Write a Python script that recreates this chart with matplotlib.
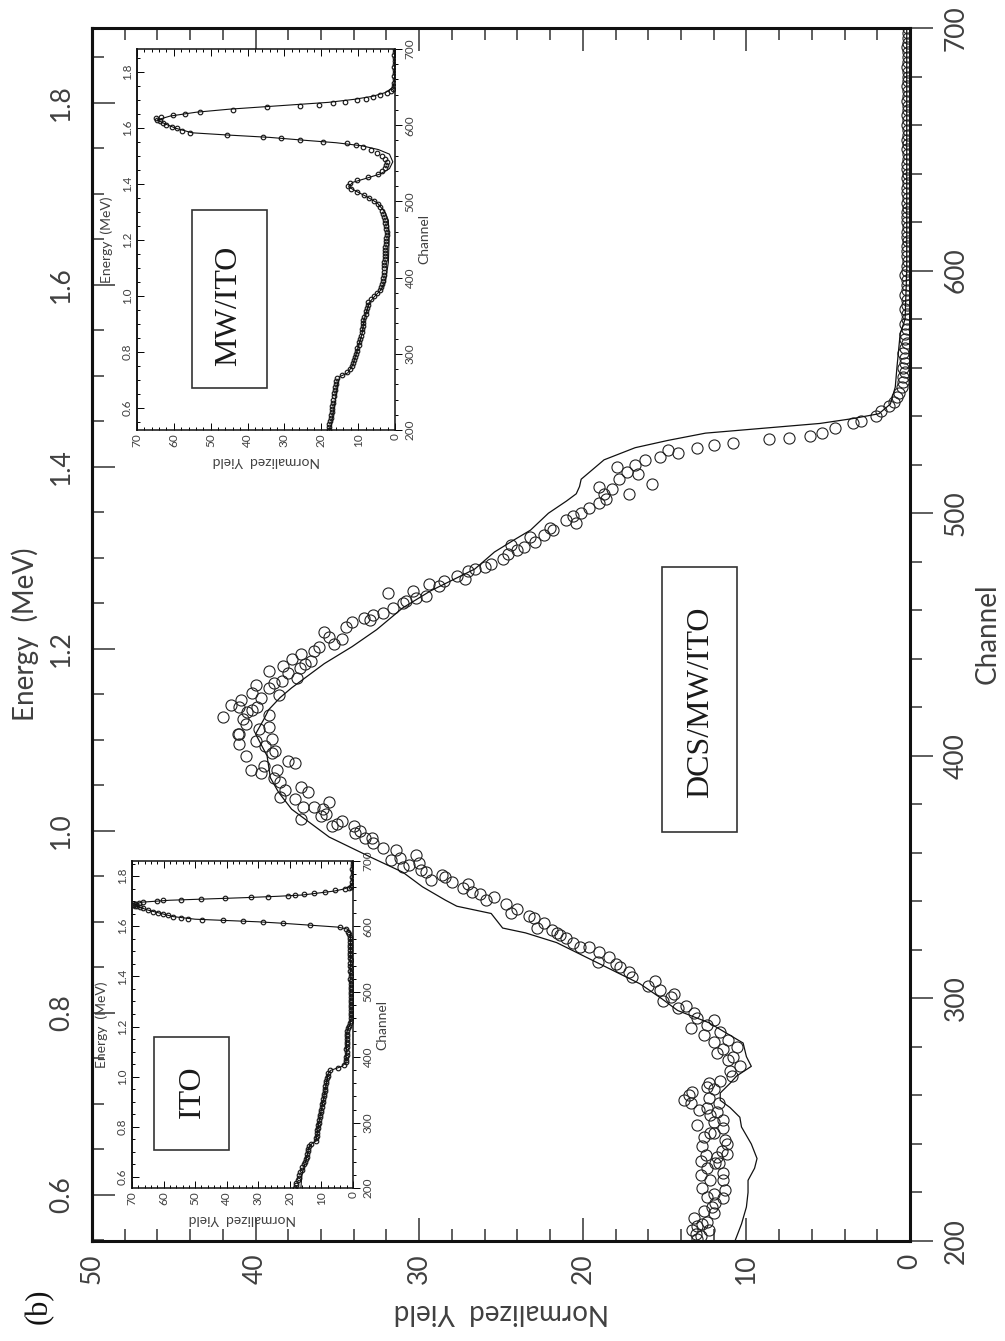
import numpy as np
import matplotlib
matplotlib.use('Agg')
from matplotlib import pyplot as plt
from matplotlib.ticker import MultipleLocator
from matplotlib.patches import Rectangle

plt.rcParams['font.family'] = ['Lato', 'DejaVu Sans']

# ---- main spectrum, DCS/MW/ITO (channel, normalized yield) ----
dcs_ch = [201, 202, 203, 204.5, 204.5, 206, 207, 208, 209.5, 211.5, 212.5, 214, 215.6,
          217.7, 218, 219.5, 221, 222, 225, 225, 227, 228, 230, 232, 232, 233, 234.6,
          235.5, 236, 237, 239, 240, 241.6, 243, 244.5, 244.5, 246.6, 248, 249, 250,
          252, 253, 254, 255, 257, 257, 258, 259, 260, 261.5, 262.5, 263.6, 265, 266,
          268, 272, 274.6, 277.5, 280, 283, 286, 288, 291, 292, 297, 299, 300.6,
          303.5, 309, 313, 315, 317, 321, 321, 325, 327, 329, 331, 334, 335, 339,
          340.5, 343, 345.5, 348, 349, 350, 352, 354, 356, 357, 359, 362, 366, 366,
          369, 371, 371, 373, 374, 376, 379, 379, 381, 383, 387, 389, 393, 394, 394,
          398, 400, 402, 404, 406, 409, 409, 411, 412, 413, 416, 417, 418, 420, 420,
          423, 424, 426, 428, 430, 432, 434, 435, 437, 438, 440, 442, 445, 448, 451,
          455, 457, 459, 463, 465, 467, 470, 472, 474, 477, 478, 481, 485, 488, 490,
          493, 496, 497, 500, 504, 508, 508, 511, 512, 517, 520, 523, 525, 527, 529,
          530.5, 532, 535, 537, 540, 544, 546, 548, 549.5]
dcs_yield = [13.0, 12.8, 13.1, 13.3, 12.3, 13.0, 12.7, 12.4, 13.2, 12.0, 12.6, 12.1, 11.9,
             11.4, 12.4, 12.0, 11.3, 12.7, 12.2, 11.4, 12.8, 11.4, 12.4, 11.9, 11.7, 12.8, 11.8,
             12.5, 11.2, 11.5, 12.7, 11.2, 11.3, 12.6, 12.0, 12.2, 11.4, 13.0, 12.0, 11.4,
             12.2, 11.8, 12.9, 12.4, 13.4, 11.7, 13.8, 12.3, 13.5, 13.3, 12.0, 12.4, 12.3, 11.6,
             10.9, 10.4, 11.1, 11.8, 10.6, 11.1, 11.6, 13.4, 12.0, 13.0, 13.7, 15.1, 14.6,
             15.3, 17.0, 17.7, 19.1, 18.4, 20.2, 19.6, 21.0, 21.6, 22.8, 22.4, 23.3, 24.4, 24.7,
             25.9, 26.3, 27.3, 28.0, 29.3, 28.4, 29.6, 31.0, 30.0, 31.7, 30.2, 32.2, 33.3, 32.9,
             33.6, 34.0, 35.3, 34.7, 37.2, 35.7, 37.1, 36.4, 35.5, 38.5, 37.2, 38.5, 39.7, 40.3, 38.7,
             38.0, 40.6, 38.8, 39.4, 40.0, 41.0, 41.1, 39.8, 39.2, 40.6, 42.0, 39.2, 40.5, 41.0, 39.9,
             40.9, 39.7, 40.2, 39.2, 38.9, 37.5, 38.0, 39.2, 38.3, 37.0, 37.8, 37.2, 36.1, 34.7, 35.8,
             34.1, 33.4, 32.2, 31.0, 30.2, 31.9, 28.8, 28.5, 27.7, 26.6, 26.0, 24.9, 24.0, 22.9, 23.2,
             21.8, 20.4, 21.0, 20.1, 19.0, 18.7, 17.2, 19.0, 15.8, 17.3, 16.8, 15.3, 14.2, 13.0, 10.8,
             8.6, 6.1, 4.6, 3.5, 2.1, 1.3, 1.0, 0.8, 0.7]
dcs_more_ch = [270, 276, 279, 282, 285, 289, 294, 296, 302, 305, 307, 311, 314, 319, 323,
               326, 328, 333, 337, 342, 344, 347, 351, 353, 355, 358, 361, 364, 368, 372,
               375, 378, 382, 385, 386, 391, 396, 397, 401, 405, 407, 415,
               419, 421, 425, 429, 431, 436, 439, 443, 446, 449, 453, 456, 458, 461, 464,
               466, 468, 471, 473, 476, 479, 483, 486, 487, 491, 494, 499, 502, 506, 510,
               514, 516, 519, 522, 526, 528, 531, 533, 538, 542]
dcs_more = [11.0, 10.8, 11.4, 12.0, 12.6, 12.4, 13.2, 14.2, 14.4, 16.0, 15.6, 17.2, 18.0, 19.0, 20.6,
            21.4, 21.9, 23.0, 24.0, 25.4, 26.8, 27.0, 28.6, 29.9, 30.6, 31.2, 31.4, 32.8, 33.9, 35.0,
            36.0, 35.9, 37.6, 36.8, 38.2, 38.9, 39.5, 37.6, 39.0, 41.0, 39.0, 40.8,
            40.2, 41.5, 38.6, 40.0, 38.4, 37.3, 36.6, 36.4, 35.2, 35.5, 34.5, 33.0, 32.8, 31.6, 30.8,
            29.6, 30.4, 29.4, 27.2, 27.0, 25.6, 24.6, 23.6, 24.4, 22.4, 22.0, 20.6, 19.6, 18.6, 18.2,
            17.8, 16.6, 17.9, 16.2, 14.8, 12.0, 7.4, 5.4, 3.0, 1.8]
# flat tail above the edge, every second channel from 552
dcs_tail = [0.5, 0.4, 0.4, 0.3, 0.4, 0.3, 0.3, 0.4, 0.3, 0.2, 0.3, 0.3, 0.2, 0.3, 0.2,
            0.2, 0.3, 0.2, 0.2, 0.3, 0.2, 0.2, 0.2, 0.3, 0.2, 0.2, 0.1, 0.2, 0.2, 0.2,
            0.1, 0.2, 0.2, 0.1, 0.2, 0.2, 0.2, 0.1, 0.2, 0.1, 0.2, 0.2, 0.1, 0.2, 0.1,
            0.2, 0.2, 0.1, 0.1, 0.2, 0.1, 0.2, 0.1, 0.1, 0.2, 0.1, 0.2, 0.1, 0.1, 0.2,
            0.1, 0.1, 0.2, 0.1, 0.1, 0.1, 0.2, 0.1, 0.1, 0.1, 0.2, 0.1, 0.1, 0.1, 0.1]
# simulated spectrum
dcs_sim_ch = [200, 207, 214, 220, 225, 230, 234, 240, 247, 251, 255, 258, 261, 265, 268,
              272, 276, 281.6, 286, 290, 295, 300, 306, 312, 317, 323, 327, 329, 335, 338,
              340.5, 346, 352, 358, 366.5, 372, 378, 385, 391, 400, 409, 415, 419, 424, 428,
              433, 438, 445, 452, 461, 468, 473, 477, 484, 489, 493, 500, 505, 508, 511, 514,
              518, 522, 527, 530, 533, 535, 537, 539, 541, 545, 552, 560, 567, 574, 580, 600, 700]
dcs_sim = [10.7, 10.3, 10.0, 9.9, 9.9, 9.5, 9.35, 9.7, 10.3, 10.4, 11.0, 11.6, 11.6, 11.0, 10.6,
           9.7, 10.0, 10.2, 11.3, 12.3, 14.2, 15.2, 16.5, 18.3, 19.8, 21.6, 23.5, 24.9, 25.6, 27.7,
           28.4, 29.8, 31.0, 32.9, 35.5, 36.6, 37.8, 38.6, 39.1, 39.3, 40.0, 39.5, 39.2, 38.5, 37.8,
           36.8, 35.8, 34.1, 32.6, 31.0, 29.3, 27.8, 26.6, 25.4, 24.2, 23.2, 22.1, 21.0, 20.4, 20.2, 20.1,
           19.4, 18.7, 16.8, 14.8, 12.5, 9.0, 5.5, 3.5, 1.9, 1.2, 0.9, 0.8, 0.7, 0.6, 0.3, 0.2, 0.2]

# ---- ITO inset ----
ito_flat = [18.4, 18.1, 17.9, 17.5, 17.2, 17.0, 16.7, 16.3, 16.0, 15.6,
            15.3, 15.0, 14.7, 14.5, 14.3, 14.1, 13.8, 13.2, 11.8, 11.6,
            11.5, 11.4, 11.3, 11.1, 11.0, 10.9, 10.7, 10.5, 10.3, 10.2,
            10.0, 9.9, 9.7, 9.6, 9.4, 9.3, 9.2, 9.0, 8.9, 8.8,
            8.6, 8.4, 8.2, 8.0, 7.8, 7.3, 4.6, 2.7, 2.2, 2.1,
            2.1, 2.0, 2.0, 2.1, 2.0, 2.0, 2.0, 1.9, 1.9, 1.9,
            1.8, 1.6, 1.2, 0.8, 0.6, 0.6, 0.6, 0.6, 0.7, 0.6,
            0.6, 0.7, 0.6, 0.7, 0.7, 0.6, 0.7, 0.7, 0.6, 0.7,
            0.8, 0.7, 0.7, 0.8, 0.7, 0.8, 0.8, 0.7, 0.8, 0.8,
            0.9, 0.8, 0.9, 0.9, 1.0, 1.0, 1.1, 1.3, 1.6, 2.2]
ito_peak_ch = [598.6, 602, 604.7, 606.7, 608.3, 609.3, 610.2, 610.9, 612.5, 614.8, 617, 619,
               621, 622.5, 625, 627.7, 629, 630.5, 631.5, 632.7, 634, 635, 636.5, 637.8, 639.3,
               639.8, 640.4, 641.4, 643, 644.5, 645.4, 646.5, 648, 649.5, 651.5, 653, 655.7,
               656.7, 658.5, 660.7, 662.5]
ito_peak = [4.1, 13.6, 22.2, 28.5, 34.8, 41.2, 47.8, 52.3, 54.5, 57.0, 58.6, 60.2,
            61.8, 63.4, 65.0, 66.5, 67.5, 68.4, 69.2, 69.6, 69.0, 68.6, 67.8, 66.5, 62.2,
            60.2, 54.4, 48.1, 40.7, 32.3, 27.0, 20.6, 18.5, 15.4, 12.2, 9.0, 5.8,
            2.6, 1.4, 0.5, 0.3]
ito_tail = [0.2, 0.2, 0.1, 0.2, 0.1, 0.1, 0.2, 0.1, 0.1, 0.1]
ito_sim_ch = [200, 220, 250, 262, 268, 272, 300, 340, 376, 380, 386, 392, 440, 450, 458, 590,
              596, 599, 602, 605, 607, 609, 611, 615, 620, 625, 630, 634, 637, 640, 642, 644,
              646, 648, 651, 654, 657, 661, 665, 700]
ito_sim = [16.5, 16.2, 14.5, 14.0, 13.0, 11.7, 10.8, 9.2, 7.8, 7.0, 3.5, 2.2, 1.9, 1.0, 0.6, 0.8,
           1.8, 5.0, 14.0, 23.0, 30.0, 40.0, 50.0, 57.0, 61.0, 65.0, 68.0, 69.0, 67.0, 58.0, 46.0, 34.0,
           24.0, 16.0, 11.0, 6.0, 3.0, 0.8, 0.2, 0.1]

# ---- MW/ITO inset ----
mw_flat = [18.0, 17.9, 17.8, 17.7, 17.5, 17.4, 17.2, 17.1, 17.0, 16.9,
           16.8, 16.6, 16.5, 16.3, 16.2, 16.0, 15.9, 15.7, 14.4, 12.9,
           12.2, 11.8, 11.5, 11.2, 10.9, 10.7, 10.4, 10.2, 9.9, 9.7,
           9.4, 9.2, 9.0, 8.9, 8.8, 8.7, 8.6, 8.3, 8.0, 7.8,
           7.6, 7.4, 7.2, 6.5, 5.7, 4.8, 4.1, 3.7, 3.5, 3.3,
           3.2, 3.1, 3.0, 3.0, 2.9, 2.9, 2.8, 2.8, 2.7, 2.7,
           2.6, 2.5, 2.5, 2.4, 2.3, 2.3, 2.4, 2.5, 2.6, 2.8,
           3.0, 3.2, 3.6, 4.1, 4.7, 5.6, 7.0, 8.5, 10.2, 11.9,
           12.8, 12.3, 10.4, 7.2, 4.5, 3.4, 2.8, 2.4, 2.3, 2.7,
           3.5, 4.8, 6.5]
mw_peak_ch = [571.6, 574, 576, 578, 580.6, 583, 585, 587, 590, 593, 596, 598, 600, 603, 605,
              607, 609, 611, 613, 615, 617.5, 620.6, 623.3, 625, 627, 628.6, 631, 633, 635,
              637, 639.5, 641.7, 645, 648, 652]
mw_peak = [8.6, 10.5, 13.1, 19.4, 25.8, 31.0, 35.7, 45.7, 55.6, 57.8, 59.2, 60.5, 62.0, 63.0, 63.8,
           64.6, 64.8, 63.5, 60.1, 57.0, 52.9, 43.9, 34.8, 25.8, 20.5, 16.8, 13.5, 10.4, 8.0,
           5.9, 4.0, 2.3, 1.2, 0.5, 0.2]
mw_tail = [0.2, 0.1, 0.2, 0.1, 0.1, 0.2, 0.1, 0.1, 0.1, 0.2, 0.1, 0.1]
mw_sim_ch = [200, 230, 262, 270, 275, 285, 305, 327, 344, 357, 367, 375, 384, 395, 420, 450,
             475, 485, 498, 506, 513, 519, 525, 530, 536, 543, 552, 562, 568, 573, 577, 580,
             584, 587, 590, 596, 602, 607, 612, 617, 621, 624, 627, 630, 634, 638, 643, 650,
             660, 700]
mw_sim = [17.5, 16.5, 15.5, 15.0, 12.8, 11.5, 10.2, 8.9, 8.4, 7.6, 7.0, 5.6, 3.8, 2.6, 1.8, 1.6,
          1.8, 2.6, 4.8, 7.6, 10.4, 12.6, 11.5, 8.0, 4.0, 1.5, 0.6, 1.5, 4.5, 9.0, 16.0, 24.0,
          34.0, 45.0, 55.0, 59.5, 62.5, 64.5, 61.0, 54.0, 45.0, 36.0, 27.0, 18.0, 11.0, 6.0, 2.5, 0.5,
          0.1, 0.1]

# energy calibration E = gain * channel + offset (MeV)
main_cal = (0.002666, 0.0162)
ito_cal = (0.002608, 0.0346)
mw_cal = (0.002721, -0.0231)

yield_ticks = [0, 10, 20, 30, 40, 50]
inset_yield_ticks = [0, 10, 20, 30, 40, 50, 60, 70]
channel_ticks = [200, 300, 400, 500, 600, 700]
energy_ticks = [0.6, 0.8, 1.0, 1.2, 1.4, 1.6, 1.8]

W, H = 1005, 1341
fig = plt.figure(figsize=(W / 100, H / 100), dpi=100)
TXT = '#404040'


def box(l, t, r, b):
    return [l / W, 1 - b / H, (r - l) / W, (b - t) / H]


def ftext(x, y, s, **kw):
    fig.text(x / W, 1 - y / H, s, ha='center', va='center', **kw)


def energy_axis(a, cal):
    g, o = cal
    return a.secondary_yaxis('left', functions=(lambda c: g * np.asarray(c) + o,
                                                lambda e: (np.asarray(e) - o) / g))


def series(start, step, vals):
    return start + step * np.arange(len(vals)), np.array(vals)


# ---------------- main axes ----------------
ax = fig.add_axes(box(92, 28, 910, 1241))
circ = dict(ls='none', marker='o', ms=8, mfc='none', mec='#222', mew=0.8)
ax.plot(dcs_yield, dcs_ch, **circ)
ax.plot(dcs_more, dcs_more_ch, **circ)
tc, ty = series(552, 2, dcs_tail)
ax.plot(ty, tc, **circ)
ax.plot(dcs_sim, dcs_sim_ch, '-', color='#111', lw=0.9)
ax.set_xlim(50, 0)
ax.set_ylim(200, 700)

ax.set_xticks(yield_ticks, [str(v) for v in yield_ticks], rotation=90)
ax.xaxis.set_minor_locator(MultipleLocator(2))
ax.tick_params(axis='x', which='both', direction='in', top=True, bottom=True, width=1.1,
               color='#333')
ax.tick_params(axis='x', which='major', length=16.5, pad=9, labelsize=19, labelcolor=TXT)
ax.tick_params(axis='x', which='minor', length=8.5)

ax.yaxis.tick_right()
ax.set_yticks(channel_ticks, [str(v) for v in channel_ticks], rotation=90, va='center')
ax.yaxis.set_minor_locator(MultipleLocator(20))
ax.tick_params(axis='y', which='both', direction='out', right=True, left=False, width=1.1,
               color='#333')
ax.tick_params(axis='y', which='major', length=16.5, pad=8, labelsize=19, labelcolor=TXT)
ax.tick_params(axis='y', which='minor', length=8.5)

sec = energy_axis(ax, main_cal)
sec.set_yticks(energy_ticks, ['%.1f' % e for e in energy_ticks], rotation=90, va='center')
sec.yaxis.set_minor_locator(MultipleLocator(0.05))
sec.tick_params(which='both', direction='in', width=1.1, color='#333')
sec.tick_params(which='major', length=16.5, pad=13, labelsize=19, labelcolor=TXT)
sec.tick_params(which='minor', length=8.5)

for a in (ax, sec):
    for s in a.spines.values():
        s.set_linewidth(2.2)
        s.set_color('#111')

ftext(25, 634, 'Energy  (MeV)', rotation=90, fontsize=20, color=TXT)
ftext(988, 634, 'Channel', rotation=90, fontsize=20, color=TXT)
ftext(501, 1312, 'Normalized  Yield', rotation=180, fontsize=20, color=TXT)
ftext(39, 1306, '(b)', rotation=90, fontsize=22, color='#111', family='Liberation Serif')


# ---------------- insets ----------------
def inset(px, flat, peak_ch, peak, tail, tail_start, sim_ch, sim, cal):
    a = fig.add_axes(box(*px))
    a.set_zorder(3)
    fc, fv = series(200, 4, flat)
    tc, tv = series(tail_start, 4, tail)
    for cc, vv in ((fc, fv), (peak_ch, peak), (tc, tv)):
        a.plot(vv, cc, 'o', ms=3.3, mfc='none', mec='#1a1a1a', mew=0.85)
    a.plot(sim, sim_ch, '-', color='#111', lw=0.8)
    a.set_xlim(70, 0)
    a.set_ylim(200, 700)

    a.set_xticks(inset_yield_ticks, [str(v) for v in inset_yield_ticks], rotation=90)
    a.xaxis.set_minor_locator(MultipleLocator(2))
    a.tick_params(axis='x', which='both', direction='in', top=True, bottom=True, width=0.7)
    a.tick_params(axis='x', which='major', length=5, pad=2.5, labelsize=8.5, labelcolor=TXT)
    a.tick_params(axis='x', which='minor', length=2.5)

    a.yaxis.tick_right()
    a.set_yticks(channel_ticks, [str(v) for v in channel_ticks], rotation=90, va='center')
    a.yaxis.set_minor_locator(MultipleLocator(20))
    a.tick_params(axis='y', which='both', direction='out', right=True, left=False, width=0.7)
    a.tick_params(axis='y', which='major', length=5, pad=2, labelsize=8.5, labelcolor=TXT)
    a.tick_params(axis='y', which='minor', length=2.5)

    s2 = energy_axis(a, cal)
    s2.set_yticks(energy_ticks, ['%.1f' % e for e in energy_ticks], rotation=90, va='center')
    s2.yaxis.set_minor_locator(MultipleLocator(0.05))
    s2.tick_params(which='both', direction='in', width=0.7)
    s2.tick_params(which='major', length=5, pad=3, labelsize=8.5, labelcolor=TXT)
    s2.tick_params(which='minor', length=2.5)
    for b in (a, s2):
        for s in b.spines.values():
            s.set_linewidth(1.1)
            s.set_color('#111')

    l, t, r, bt = px
    cx, cy = (l + r) / 2, (t + bt) / 2
    ftext(l - 30, cy, 'Energy  (MeV)', rotation=90, fontsize=10, color=TXT)
    ftext(r + 29, cy, 'Channel', rotation=90, fontsize=10, color=TXT)
    ftext(cx, bt + 31, 'Normalized  Yield', rotation=180, fontsize=10, color=TXT)
    return a


inset((132, 861, 353, 1188), ito_flat, ito_peak_ch, ito_peak, ito_tail, 664,
      ito_sim_ch, ito_sim, ito_cal)
inset((137, 49, 395, 430), mw_flat, mw_peak_ch, mw_peak, mw_tail, 656,
      mw_sim_ch, mw_sim, mw_cal)

# sample labels in frames
for (l, t, r, b), (tx, ty_), name in [((662, 567, 737, 832), (701, 702), 'DCS/MW/ITO'),
                                       ((192, 210, 267, 388), (229, 306), 'MW/ITO'),
                                       ((154, 1037, 229, 1150), (192.5, 1092), 'ITO')]:
    fig.add_artist(Rectangle((l / W, 1 - b / H), (r - l) / W, (b - t) / H,
                             transform=fig.transFigure, fill=False, ec='#333', lw=1.2,
                             zorder=10))
    fig.text(tx / W, 1 - ty_ / H, name, rotation=90, ha='center', va='center', fontsize=23,
             family='Liberation Serif', color='#1a1a1a', zorder=11)

fig.savefig('out.png', dpi=100)
